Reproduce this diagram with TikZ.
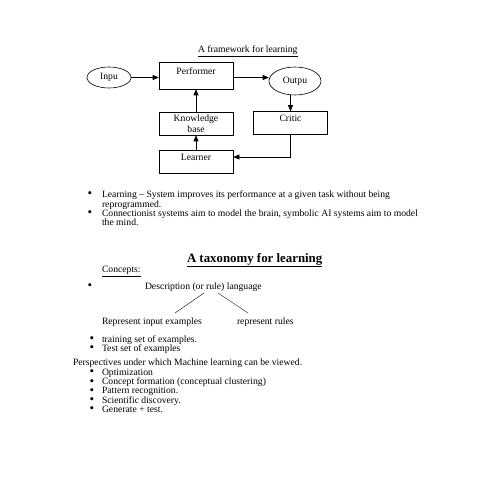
\documentclass[tikz,border=0pt]{standalone}
\usepackage{fontspec}
\setmainfont{Liberation Serif}
\usetikzlibrary{positioning,arrows.meta,shapes.geometric}
\newcommand{\bodysize}{\fontsize{9.7}{10.6}\selectfont}
\tikzstyle{block}=[draw, inner sep=0, minimum width=74bp, minimum height=23bp, align=center, font=\bodysize]
\tikzstyle{topblock}=[block, text height=6bp, text depth=8bp]
\tikzstyle{term}=[draw, ellipse, inner sep=0, font=\bodysize]
\tikzstyle{flow}=[-{Triangle[length=6bp, width=5bp]}]
\tikzstyle{txt}=[anchor=mid west, inner sep=0, outer sep=0, text height=6.5bp, text depth=1.5bp, font=\bodysize]
\tikzstyle{dot}=[inner sep=0, font=\fontsize{13}{14}\selectfont]

\begin{document}
\begin{tikzpicture}[x=1bp, y=-1bp, line width=0.6bp]
        \useasboundingbox (0,0) rectangle (495,495);
        % framework diagram
        \node[txt] (fwtitle) at (198,50) {\underline{A framework for learning}};
        \node[term, minimum width=44bp, minimum height=21bp] (inpu) at (109,77.5) {Inpu};
        \node[topblock, minimum height=27bp] (perf) at (196,75.5) {Performer};
        \node[term, minimum width=52bp, minimum height=28bp] (outpu) at (295,81) {Outpu};
        \node[block] (kb) at (196,123.5) {Knowledge\\base};
        \node[topblock] (critic) at (290.5,123) {Critic};
        \node[topblock] (learner) at (196,162) {Learner};
        \draw[flow] (inpu) -- (perf.west |- inpu);
        \draw[flow] (perf.east |- inpu) -- (outpu.west |- inpu);
        \draw[flow] (outpu.south -| critic.north) -- (critic.north);
        \draw[flow] (kb) -- (perf);
        \draw[flow] (learner) -- (kb);
        \draw[flow] (critic.south) |- ([yshift=5bp]learner.east);
        % bullets
        \node[dot] (b1) at (90,195) {\textbullet};
        \node[txt] (l1) at (102,195) {Learning -- System improves its performance at a given task without being};
        \node[txt] (l2) at (102,205) {reprogrammed.};
        \node[dot] (b2) at (90,214) {\textbullet};
        \node[txt] (l3) at (102,214) {Connectionist systems aim to model the brain, symbolic AI systems aim to model};
        \node[txt] (l4) at (102,223) {the mind.};
        % taxonomy
        \node[txt, font=\fontsize{12.9}{14}\selectfont\bfseries, text height=9bp, text depth=3bp] (taxtitle) at (187,260) {\underline{A taxonomy for learning}};
        \node[txt] (concepts) at (102,270) {\underline{Concepts:}};
        \node[dot] (b3) at (90,287) {\textbullet};
        \node[txt] (desc) at (145,287) {Description (or rule) language};
        \node[txt] (repin) at (102,322) {Represent input examples};
        \node[txt] (reprule) at (237,322) {represent rules};
        \coordinate (d1) at (204,293);
        \coordinate (d2) at (218,293);
        \coordinate (r1) at (175,313);
        \coordinate (r2) at (248,313);
        \draw[line width=0.4bp] (d1) -- (r1);
        \draw[line width=0.4bp] (d2) -- (r2);
        \node[dot] (b4) at (92,340) {\textbullet};
        \node[txt] (train) at (102,340) {training set of examples.};
        \node[dot] (b5) at (92,349) {\textbullet};
        \node[txt] (test) at (102,349) {Test set of examples};
        % perspectives
        \node[txt] (persp) at (73,363) {Perspectives under which Machine learning can be viewed.};
        \foreach \t [count=\i] in {Optimization, Concept formation (conceptual clustering), Pattern recognition., Scientific discovery., Generate + test.} {
            \node[dot] (pb\i) at (92,{373+(\i-1)*9.25}) {\textbullet};
            \node[txt] (p\i) at (102,{373+(\i-1)*9.25}) {\t};
        }
    \end{tikzpicture}
\end{document}
